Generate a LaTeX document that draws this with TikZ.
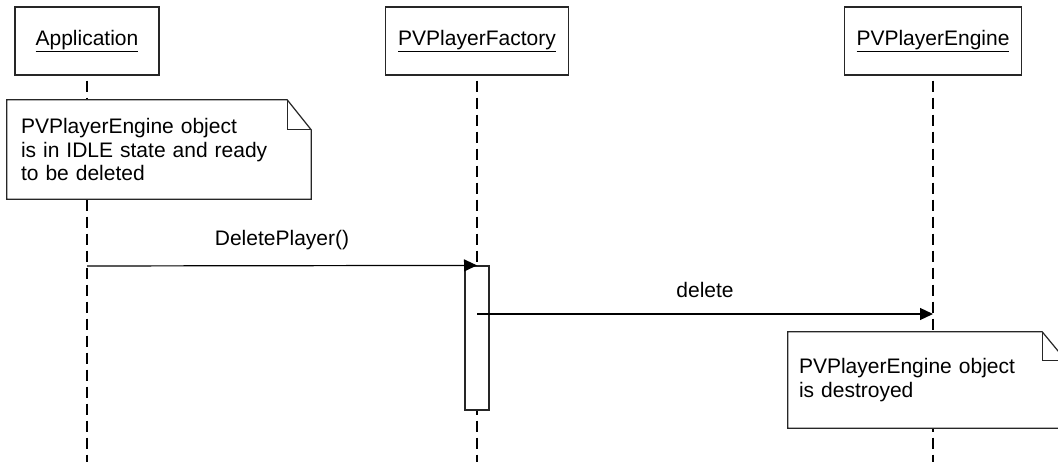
\documentclass[tikz,border=0pt]{standalone}
\usepackage{fontspec}
\setmainfont{Liberation Sans}
\usetikzlibrary{arrows.meta}

\tikzset{
	every node/.style={font=\fontsize{21}{23.5}\selectfont},
	obj/.style={draw=black!85, line width=1.2pt, fill=white, minimum height=68pt, inner sep=0pt},
	lifeline/.style={line width=1.8pt, dash pattern=on 11pt off 6pt},
	act/.style={draw=black!85, line width=1.2pt, fill=white, minimum width=24pt, minimum height=144pt, inner sep=0pt},
	msg/.style={line width=1.2pt, -{Triangle[length=13pt,width=12pt]}},
	note/.style={fill=white, align=left, inner ysep=0pt},
	notebox/.style={draw=black!85, line width=1.2pt},
}

\begin{document}
\begin{tikzpicture}[x=1pt, y=-1pt]
		\useasboundingbox (0,0) rectangle (1058,462);

		\node[obj, minimum width=144pt] (app) at (87,41) {\underline{Application}};
		\node[obj, minimum width=183pt] (factory) at (477,41) {\underline{PVPlayerFactory}};
		\node[obj, minimum width=177pt] (engine) at (933,41) {\underline{PVPlayerEngine}};

		\coordinate (app-end) at (87,470);
		\coordinate (factory-end) at (477,470);
		\coordinate (engine-end) at (933,470);

		\draw[lifeline] ([yshift=-5pt]app.south) -- (app-end);
		\draw[lifeline] ([yshift=-5pt]factory.south) -- (factory-end);
		\draw[lifeline] ([yshift=-5pt]engine.south) -- (engine-end);

		\node[act] (act) at (477,338) {};

		\coordinate (call) at (87,266);
		\coordinate (del) at (477,314);
		\coordinate (del-end) at (933,314);

		\draw[msg] (call) -- node[above=12pt] {DeletePlayer()} (act.north);
		\draw[msg] (del) -- node[above=12pt] {delete} (del-end);

		\node[note, minimum width=304pt, minimum height=99pt, inner xsep=14pt, text width=276pt] (idle) at (159,149.5)
			{PVPlayerEngine object\\is in IDLE state and ready\\to be deleted};
		\draw[notebox] (idle.north west) -- ([xshift=-24pt]idle.north east) -- ([yshift=-30pt]idle.north east)
			-- (idle.south east) -- (idle.south west) -- cycle;
		\draw[notebox] ([xshift=-24pt]idle.north east) |- ([yshift=-30pt]idle.north east);

		\node[note, minimum width=278pt, minimum height=96pt, inner xsep=11pt, text width=256pt] (gone) at (927,380)
			{PVPlayerEngine object\\is destroyed};
		\draw[notebox] (gone.north west) -- ([xshift=-24pt]gone.north east) -- ([yshift=-29pt]gone.north east)
			-- (gone.south east) -- (gone.south west) -- cycle;
		\draw[notebox] ([xshift=-24pt]gone.north east) |- ([yshift=-29pt]gone.north east);

	\end{tikzpicture}
\end{document}
